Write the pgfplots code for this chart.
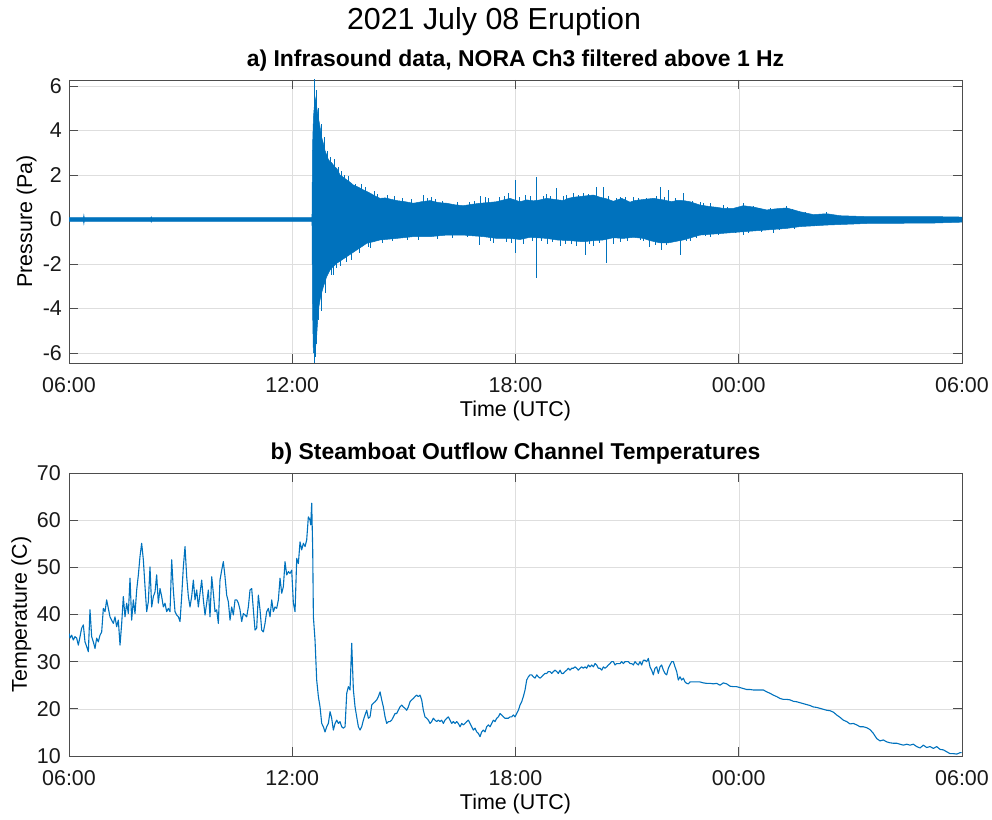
\documentclass[border=0pt]{standalone}
\usepackage{pgfplots}
\pgfplotsset{compat=1.18}
\usepackage{fontspec}
\setmainfont{Liberation Sans}

\definecolor{mblue}{RGB}{0,114,189}
\definecolor{axgray}{RGB}{77,77,77}

\pgfplotsset{
  mpanel/.style={
    scale only axis,
    width=893bp, height=283bp,
    xmin=6, xmax=30,
    xtick={6,12,18,24,30},
    xticklabels={06:00,12:00,18:00,00:00,06:00},
    grid=major,
    major grid style={draw=black!13, line width=0.5bp},
    axis line style={draw=axgray, line width=0.7bp},
    tick style={draw=axgray, line width=0.7bp},
    tick align=inside,
    tick pos=both,
    major tick length=9bp,
    tick label style={font=\fontsize{21.5}{23}\selectfont, text=black!90},
    xticklabel style={inner sep=0pt, anchor=north, yshift=-14bp},
    yticklabel style={inner sep=0pt, anchor=east, xshift=-7bp},
    xlabel={Time (UTC)},
    xlabel style={font=\fontsize{21.5}{23}\selectfont, inner sep=0pt,
      at={(axis description cs:0.5,-0.170)}, anchor=center},
    ylabel style={font=\fontsize{21.5}{23}\selectfont, inner sep=0pt, anchor=south},
    title style={font=\bfseries\fontsize{23}{25}\selectfont, inner sep=0pt,
      at={(axis description cs:0.5,1)}, anchor=base, yshift=7.5bp},
  }
}

\begin{document}
\begin{tikzpicture}
\path[use as bounding box] (0,0) rectangle (992bp,820bp);

\node[anchor=base, inner sep=0pt, font=\fontsize{30.5}{33}\selectfont] at (494bp,790bp) {2021 July 08 Eruption};

% ---------------- a) infrasound ----------------
\begin{axis}[mpanel,
  at={(69bp,457bp)}, anchor=south west,
  ymin=-6.45, ymax=6.27,
  ytick={-6,-4,-2,0,2,4,6},
  yticklabels={-6,-4,-2,0,2,4,6},
  ylabel={Pressure (Pa)},
  ylabel style={at={(axis description cs:-0.036,0.5)}},
  title={a) Infrasound data, NORA Ch3 filtered above 1 Hz},
]
% envelope of the filtered trace: upper edge forward, lower edge back
\addplot[fill=mblue, draw=mblue, line width=0.5bp] coordinates {
(6.00,0.08) (6.39,0.08) (6.40,0.20) (6.41,0.08) (8.20,0.08) (8.21,0.12) (8.22,0.08)
(10.5,0.08) (12.53,0.08)
(12.545,3.3) (12.57,4.6) (12.612,5.5) (12.656,5.07) (12.70,4.6) (12.746,4.17)
(12.79,3.7) (12.836,3.42) (12.88,3.1) (12.925,2.9) (12.97,2.7) (13.015,2.6)
(13.06,2.55) (13.104,2.45) (13.15,2.35) (13.194,2.3) (13.24,2.15) (13.284,2.0)
(13.37,1.9) (13.463,1.78) (13.55,1.68) (13.642,1.55) (13.78,1.45) (13.911,1.33)
(14.05,1.22) (14.180,1.10) (14.27,1.02) (14.358,0.95) (14.50,0.97) (14.627,0.92)
(14.807,0.85) (15.03,0.80) (15.255,0.73) (15.48,0.80) (15.703,0.85) (15.93,0.76)
(16.151,0.73) (16.37,0.66) (16.598,0.62) (16.82,0.68) (17.046,0.73) (17.27,0.76)
(17.494,0.80) (17.68,0.88) (17.853,0.95) (18.121,0.80) (18.301,0.88) (18.48,0.84)
(18.659,0.88) (18.838,0.95) (19.06,0.90) (19.286,0.85) (19.42,0.95) (19.555,1.00)
(19.824,1.05) (20.092,1.10) (20.271,1.00) (20.45,0.93) (20.630,0.82) (20.854,0.95)
(21.078,0.78) (21.20,0.85) (21.436,0.90) (21.704,0.95) (21.973,0.88) (22.197,0.80)
(22.35,0.86) (22.511,0.85) (22.690,0.80) (22.959,0.65) (23.227,0.58) (23.40,0.55)
(23.586,0.50) (23.855,0.50) (24.123,0.62) (24.392,0.56) (24.751,0.43) (25.00,0.48)
(25.288,0.52) (25.646,0.35) (26.005,0.22) (26.363,0.26) (26.721,0.17) (27.438,0.13)
(28.334,0.13) (29.230,0.13) (30.00,0.11)
(30.00,-0.12) (29.230,-0.16) (28.334,-0.17) (27.438,-0.18) (26.363,-0.25)
(25.646,-0.32) (25.288,-0.40) (24.751,-0.47) (24.123,-0.55) (23.586,-0.62)
(22.959,-0.70) (22.511,-0.92) (22.108,-1.05) (21.884,-1.05) (21.615,-0.95)
(21.436,-0.85) (21.167,-0.80) (20.90,-0.85) (20.630,-0.82) (20.361,-0.92)
(20.092,-0.95) (19.824,-1.00) (19.465,-0.95) (19.107,-0.92) (18.838,-0.85)
(18.390,-0.80) (18.121,-0.90) (17.853,-0.85) (17.494,-0.85) (17.136,-0.77)
(16.598,-0.70) (16.151,-0.70) (15.703,-0.77) (15.255,-0.77) (14.807,-0.85)
(14.358,-0.92) (14.180,-1.00) (14.000,-1.07) (13.87,-1.22) (13.732,-1.37)
(13.60,-1.52) (13.463,-1.67) (13.33,-1.82) (13.194,-1.97) (13.10,-2.12)
(13.015,-2.27) (12.97,-2.42) (12.925,-2.57) (12.88,-2.80) (12.836,-3.02)
(12.79,-3.30) (12.746,-3.62) (12.701,-4.07) (12.656,-5.26) (12.612,-6.00)
(12.567,-6.00) (12.545,-4.0) (12.53,-0.08) (10.5,-0.08) (8.22,-0.08) (8.21,-0.12)
(8.20,-0.08) (6.41,-0.08) (6.40,-0.20) (6.39,-0.08) (6.00,-0.08)
};
% isolated transients and the ragged edge of the coda
\addplot[ycomb, draw=mblue, line width=0.9bp] coordinates {
(12.595,-6.6) (12.605,6.5) (12.62,-6.2) (12.64,5.8) (12.66,-5.6) (12.70,5.0) (12.71,-4.5)
(12.78,4.3) (12.79,-4.1) (12.90,-3.3) (13.015,2.82) (13.10,-2.5) (13.239,2.38)
(13.30,-2.1) (13.40,2.0) (13.60,-1.8) (13.70,1.6) (14.10,-1.3) (14.20,1.3)
(15.52,1.10) (15.75,1.00) (17.03,-1.14) (17.05,1.05) (17.18,1.00) (17.41,-1.07)
(17.58,1.00) (17.81,1.20) (17.99,-1.52) (18.005,1.78) (18.21,-1.10) (18.26,1.10)
(18.569,1.93) (18.575,-2.64) (18.84,1.15) (18.85,-1.10) (19.107,1.40) (19.20,-1.20)
(19.38,1.10) (19.555,1.20) (19.64,-1.20) (19.824,1.18) (19.868,-1.60) (20.09,-1.20)
(20.182,1.45) (20.36,1.48) (20.433,-1.97) (20.63,-1.10) (20.81,1.03) (20.82,-1.00)
(21.17,1.00) (21.44,-0.95) (21.53,0.95) (21.61,-1.25) (21.884,1.48) (21.93,-1.37)
(22.108,1.33) (22.42,-1.60) (22.511,1.18) (22.69,-0.95) (22.96,0.80) (23.23,0.75)
(23.24,-0.80) (23.59,0.65) (24.12,0.73) (24.13,-0.70) (24.39,0.60) (24.93,-0.60)
(25.29,0.60) (26.36,0.35)
(12.86,3.7) (12.95,3.1) (13.05,-2.5) (13.13,2.7) (13.20,-2.2) (13.33,2.2)
(13.45,-1.9) (13.52,1.95) (13.80,-1.5) (13.85,1.6) (13.98,1.45) (14.05,-1.25)
(14.30,1.15) (14.42,-1.05) (14.55,1.10) (14.70,-0.98) (14.75,1.05) (14.95,0.95)
(15.10,-0.92) (15.20,0.90) (15.40,-0.90) (15.63,0.95) (15.85,0.92) (15.90,-0.88)
(16.05,0.85) (16.30,-0.82) (16.45,0.80) (16.70,-0.80) (16.75,0.78) (16.90,0.85)
(17.28,0.95) (17.33,-0.95) (17.70,1.05) (17.75,-1.00) (17.90,-1.05) (18.10,1.00)
(18.40,1.05) (18.45,-0.95) (18.70,-0.98) (18.75,1.05) (18.95,1.05) (19.00,-1.02)
(19.30,1.05) (19.35,-1.08) (19.50,-1.10) (19.70,1.10) (19.95,1.15) (20.00,-1.12)
(20.25,-1.05) (20.50,1.05) (20.70,0.95) (20.95,1.00) (21.00,-0.95) (21.30,0.95)
(21.35,-0.90) (21.75,-1.15) (21.80,1.05) (22.00,1.00) (22.05,-1.15) (22.25,-1.00)
(22.30,0.95) (22.60,-0.95) (22.75,0.85) (22.85,-0.85) (23.05,0.72) (23.10,-0.75)
(23.45,-0.68) (23.70,0.58) (23.90,-0.62) (24.25,-0.62) (24.55,0.52) (24.60,-0.55)
(24.85,0.50) (25.10,-0.48) (25.45,0.45) (25.50,-0.42) (25.80,0.32) (26.10,-0.30)
};
\end{axis}

% ---------------- b) temperatures ----------------
\begin{axis}[mpanel,
  at={(69bp,64bp)}, anchor=south west,
  ymin=10, ymax=70,
  ytick={10,20,30,40,50,60,70},
  yticklabels={10,20,30,40,50,60,70},
  yticklabel style={xshift=-1bp},
  ylabel={Temperature (C)},
  ylabel style={at={(axis description cs:-0.042,0.5)}},
  title={b) Steamboat Outflow Channel Temperatures},
]
\addplot[draw=mblue, line width=1.1bp, line join=round] coordinates {
(6.000,36.0) (6.027,35.0) (6.072,35.6) (6.116,34.6) (6.161,35.3) (6.206,35.0)
(6.251,33.5) (6.296,35.3) (6.340,37.1) (6.385,37.8) (6.430,34.2) (6.475,33.2)
(6.520,32.1) (6.564,41.0) (6.609,35.3) (6.654,34.2) (6.699,32.8) (6.744,35.0)
(6.788,34.2) (6.833,35.6) (6.878,36.3) (6.923,41.3) (6.968,40.6) (7.012,43.1)
(7.057,41.3) (7.102,39.5) (7.147,38.8) (7.192,38.1) (7.236,39.5) (7.281,37.4)
(7.326,38.8) (7.371,33.5) (7.416,38.1) (7.460,43.8) (7.505,39.5) (7.550,42.4)
(7.595,40.2) (7.640,47.7) (7.684,38.8) (7.729,43.1) (7.774,40.2) (7.819,45.2)
(7.864,48.4) (7.908,52.3) (7.953,55.1) (7.998,51.6) (8.043,45.9) (8.088,40.6)
(8.132,42.7) (8.177,50.1) (8.222,41.6) (8.267,43.8) (8.312,44.8) (8.356,48.4)
(8.401,42.4) (8.446,45.5) (8.491,43.8) (8.536,41.6) (8.580,42.4) (8.625,40.6)
(8.670,41.3) (8.715,40.6) (8.760,51.6) (8.804,45.2) (8.849,40.6) (8.894,39.9)
(8.939,39.5) (8.984,38.5) (9.028,43.8) (9.073,50.1) (9.118,54.4) (9.163,48.0)
(9.208,43.8) (9.252,41.6) (9.297,43.8) (9.342,47.3) (9.387,43.1) (9.432,45.2)
(9.476,41.6) (9.521,44.5) (9.566,47.3) (9.611,43.1) (9.656,39.9) (9.700,42.4)
(9.745,45.2) (9.790,39.5) (9.835,48.0) (9.880,44.5) (9.924,40.6) (9.969,41.0)
(10.014,38.1) (10.058,47.3) (10.104,49.4) (10.148,51.2) (10.193,48.0) (10.238,44.1)
(10.283,42.7) (10.328,38.8) (10.372,41.6) (10.417,39.9) (10.462,43.1) (10.507,43.1)
(10.552,42.4) (10.596,41.0) (10.641,38.5) (10.686,40.2) (10.731,39.9) (10.776,39.5)
(10.820,41.6) (10.865,45.2) (10.910,45.5) (10.955,41.0) (11.000,36.7) (11.044,37.1)
(11.089,44.1) (11.134,41.0) (11.179,36.7) (11.224,36.3) (11.268,38.1) (11.313,40.6)
(11.358,41.3) (11.403,39.5) (11.448,43.1) (11.492,40.6) (11.537,41.6) (11.582,41.3)
(11.627,43.1) (11.672,47.7) (11.716,44.5) (11.761,45.9) (11.806,51.2) (11.851,48.4)
(11.896,49.1) (11.940,48.7) (11.985,49.4) (12.030,42.4) (12.075,40.6) (12.120,51.9)
(12.164,50.8) (12.209,55.4) (12.254,53.7) (12.299,55.1) (12.344,54.4) (12.388,55.8)
(12.433,60.7) (12.478,60.0) (12.496,59.0) (12.523,63.6) (12.550,53.7) (12.568,39.5)
(12.612,34.6) (12.657,26.1) (12.702,22.6) (12.747,20.4) (12.792,16.9) (12.836,16.2)
(12.881,15.1) (12.926,16.2) (12.971,16.9) (13.016,19.4) (13.060,18.0) (13.105,15.5)
(13.150,16.9) (13.195,17.6) (13.240,16.9) (13.284,17.3) (13.329,16.2) (13.374,15.9)
(13.419,16.2) (13.464,23.3) (13.508,24.7) (13.553,24.0) (13.598,33.9) (13.643,24.0)
(13.688,20.4) (13.732,18.3) (13.777,16.2) (13.822,15.5) (13.867,16.2) (13.912,17.6)
(13.956,18.7) (14.001,19.7) (14.046,18.0) (14.091,18.3) (14.136,20.8) (14.180,21.2)
(14.225,21.5) (14.270,21.9) (14.315,22.6) (14.360,23.6) (14.404,21.9) (14.449,20.4)
(14.494,18.3) (14.539,16.9) (14.584,17.3) (14.627,17.3) (14.672,17.6) (14.717,18.3)
(14.762,19.0) (14.807,19.0) (14.851,19.7) (14.896,20.4) (14.941,20.8) (14.986,20.4)
(15.031,20.1) (15.075,19.7) (15.120,20.4) (15.165,21.5) (15.210,21.9) (15.255,22.2)
(15.299,22.6) (15.344,22.9) (15.389,22.6) (15.434,22.9) (15.479,21.9) (15.523,19.7)
(15.568,18.3) (15.613,18.0) (15.658,17.6) (15.703,16.9) (15.747,17.3) (15.792,18.0)
(15.837,17.6) (15.882,17.3) (15.927,17.6) (15.971,17.3) (16.016,17.6) (16.061,16.9)
(16.106,17.6) (16.151,18.0) (16.195,18.3) (16.240,17.6) (16.285,16.9) (16.330,17.3)
(16.375,16.9) (16.419,17.3) (16.464,16.9) (16.509,16.2) (16.554,16.9) (16.598,16.6)
(16.643,16.9) (16.688,17.3) (16.733,17.6) (16.778,16.9) (16.823,16.2) (16.867,15.5)
(16.912,15.9) (16.957,15.1) (17.002,14.8) (17.047,14.1) (17.091,15.1) (17.136,15.5)
(17.181,15.1) (17.226,16.2) (17.271,16.6) (17.315,16.2) (17.360,16.9) (17.405,17.6)
(17.450,17.3) (17.495,18.0) (17.539,18.3) (17.584,19.0) (17.629,18.7) (17.674,18.3)
(17.718,18.0) (17.763,18.0) (17.808,18.0) (17.853,18.3) (17.898,18.3) (17.942,18.7)
(17.987,18.3) (18.032,19.0) (18.077,19.7) (18.122,20.8) (18.166,21.5) (18.211,22.6)
(18.256,24.0) (18.301,26.1) (18.346,26.8) (18.390,27.2) (18.435,27.2) (18.480,26.8)
(18.525,26.5) (18.570,27.2) (18.614,26.8) (18.659,26.5) (18.704,26.8) (18.749,27.2)
(18.794,27.5) (18.838,27.5) (18.883,27.9) (18.928,27.9) (18.973,27.5) (19.018,27.9)
(19.062,28.2) (19.107,27.9) (19.152,27.5) (19.197,28.2) (19.242,27.5) (19.286,27.5)
(19.331,27.9) (19.376,28.2) (19.421,28.6) (19.465,28.2) (19.510,28.6) (19.555,28.6)
(19.600,28.9) (19.645,28.6) (19.689,28.2) (19.734,28.6) (19.779,28.9) (19.824,28.6)
(19.869,28.9) (19.913,28.6) (19.958,29.3) (20.003,28.9) (20.048,29.3) (20.093,28.9)
(20.137,29.6) (20.182,29.3) (20.227,28.6) (20.272,28.6) (20.317,28.2) (20.361,28.9)
(20.406,28.6) (20.451,28.9) (20.496,29.3) (20.540,29.6) (20.585,30.0) (20.630,30.0)
(20.675,29.3) (20.720,29.6) (20.764,29.6) (20.809,29.6) (20.854,30.0) (20.899,29.6)
(20.944,30.0) (20.988,30.0) (21.033,30.0) (21.078,29.6) (21.123,29.6) (21.168,29.3)
(21.212,30.0) (21.257,29.6) (21.302,29.3) (21.346,30.0) (21.391,29.3) (21.436,30.3)
(21.480,30.3) (21.525,30.0) (21.570,30.7) (21.615,28.9) (21.660,28.2) (21.704,27.2)
(21.749,28.6) (21.794,28.9) (21.839,27.5) (21.884,28.9) (21.928,29.3) (21.973,28.2)
(22.018,27.5) (22.063,27.2) (22.108,28.6) (22.152,29.3) (22.197,30.0) (22.242,30.0)
(22.287,28.9) (22.332,27.9) (22.376,26.1) (22.421,26.8) (22.466,26.1) (22.511,26.5)
(22.556,25.7) (22.600,25.4) (22.645,25.3) (22.690,25.7) (22.780,25.7) (22.869,25.7)
(22.959,25.7) (23.048,25.5) (23.138,25.4) (23.227,25.4) (23.317,25.3) (23.407,25.4)
(23.496,25.0) (23.586,25.5) (23.675,25.3) (23.765,24.8) (23.855,24.7) (23.944,24.7)
(24.034,24.5) (24.123,24.3) (24.213,24.1) (24.303,24.1) (24.392,24.0) (24.482,24.0)
(24.571,24.0) (24.661,24.0) (24.751,23.6) (24.840,23.3) (24.930,22.9) (25.019,22.6)
(25.109,22.2) (25.198,22.0) (25.288,22.0) (25.378,21.9) (25.467,21.6) (25.557,21.5)
(25.646,21.3) (25.736,21.1) (25.826,20.9) (25.915,20.7) (26.005,20.4) (26.094,20.3)
(26.184,20.1) (26.273,19.9) (26.363,19.7) (26.453,19.6) (26.542,19.3) (26.632,18.7)
(26.721,18.2) (26.811,17.6) (26.901,17.3) (26.990,16.8) (27.080,16.9) (27.169,16.6)
(27.259,16.2) (27.349,16.2) (27.438,16.0) (27.528,15.6) (27.617,14.8) (27.707,13.7)
(27.797,13.2) (27.886,13.4) (27.976,13.0) (28.065,12.8) (28.155,12.7) (28.245,12.7)
(28.334,12.5) (28.424,12.3) (28.513,12.5) (28.603,12.3) (28.693,12.5) (28.782,12.0)
(28.872,11.7) (28.961,12.3) (29.051,11.8) (29.141,12.0) (29.230,11.6) (29.320,12.0)
(29.409,11.4) (29.499,11.3) (29.589,10.9) (29.678,10.5) (29.768,10.5) (29.857,10.4)
(29.947,10.7) (29.992,10.7)
};
\end{axis}
\end{tikzpicture}
\end{document}
